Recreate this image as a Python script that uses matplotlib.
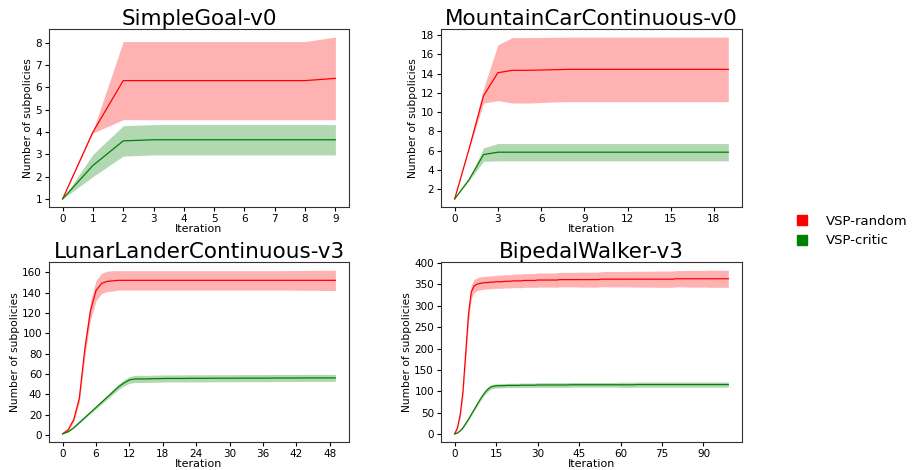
import matplotlib
matplotlib.use('Agg')
import matplotlib.pyplot as plt
from matplotlib.lines import Line2D
from matplotlib.ticker import MultipleLocator
import numpy as np

# SimpleGoal-v0
sg_x = list(range(10))
sg_red = [1, 4.0, 6.3, 6.3, 6.3, 6.3, 6.3, 6.3, 6.3, 6.4]
sg_red_std = [0, 0.05, 1.75, 1.75, 1.75, 1.75, 1.75, 1.75, 1.75, 1.85]
sg_green = [1, 2.5, 3.6, 3.65, 3.65, 3.65, 3.65, 3.65, 3.65, 3.65]
sg_green_std = [0, 0.5, 0.68, 0.68, 0.68, 0.68, 0.68, 0.68, 0.68, 0.68]

# MountainCarContinuous-v0
mc_x = list(range(20))
mc_red = [1, 6.2, 11.7, 14.1, 14.35, 14.35, 14.38, 14.42, 14.45, 14.45,
          14.45, 14.45, 14.45, 14.45, 14.45, 14.45, 14.45, 14.45, 14.45, 14.45]
mc_red_std = [0, 0.05, 0.75, 2.9, 3.4, 3.4, 3.38, 3.35, 3.35, 3.35,
              3.35, 3.35, 3.35, 3.35, 3.35, 3.35, 3.35, 3.35, 3.35, 3.35]
mc_green = [1, 3.0, 5.6, 5.85, 5.85, 5.85, 5.85, 5.85, 5.85, 5.85,
            5.85, 5.85, 5.85, 5.85, 5.85, 5.85, 5.85, 5.85, 5.85, 5.85]
mc_green_std = [0, 0.1, 0.7, 0.9, 0.9, 0.9, 0.9, 0.9, 0.9, 0.9,
                0.9, 0.9, 0.9, 0.9, 0.9, 0.9, 0.9, 0.9, 0.9, 0.9]

# LunarLanderContinuous-v3
ll_x = list(range(50))
ll_red = [1, 5, 15, 36, 85, 122, 142, 149, 151, 151.5,
          152, 152, 152, 152, 152, 152, 152, 152, 152, 152,
          152, 152, 152, 152, 152, 152, 152, 152, 152, 152,
          152, 152, 152, 152, 152, 152, 152, 152, 152, 152,
          152, 152, 152, 152, 152, 152, 152, 152, 152, 152]
ll_red_std = [0, 1, 2, 4, 7, 9, 10, 10, 10, 10,
              9.5, 9.5, 9.5, 9.5, 9.5, 9.5, 9.5, 9.5, 9.5, 9.5,
              9.5, 9.5, 9.5, 9.5, 9.5, 9.5, 9.5, 9.5, 9.5, 9.5,
              9.5, 9.5, 9.5, 9.5, 9.5, 9.5, 9.5, 9.5, 9.5, 9.5,
              9.6, 9.6, 9.7, 9.7, 9.8, 9.8, 9.9, 9.9, 10, 10]
ll_green = [1, 3, 7, 12, 17, 22, 27, 32, 37, 42,
            47, 51, 54, 55, 55, 55, 55.2, 55.3, 55.4, 55.5,
            55.5, 55.5, 55.5, 55.6, 55.6, 55.6, 55.6, 55.7, 55.7, 55.7,
            55.7, 55.7, 55.8, 55.8, 55.8, 55.8, 55.8, 55.8, 55.9, 55.9,
            55.9, 55.9, 55.9, 56, 56, 56, 56, 56, 56, 56]
ll_green_std = [0, 0.3, 0.6, 0.9, 1.0, 1.2, 1.5, 1.8, 2.0, 2.3,
                2.6, 3.0, 3.3, 3.5, 3.5, 3.5, 3.5, 3.5, 3.5, 3.5,
                3.5, 3.5, 3.5, 3.5, 3.5, 3.5, 3.5, 3.5, 3.5, 3.5,
                3.5, 3.5, 3.5, 3.5, 3.5, 3.5, 3.5, 3.5, 3.5, 3.5,
                3.5, 3.5, 3.5, 3.5, 3.5, 3.5, 3.5, 3.5, 3.5, 3.5]

# BipedalWalker-v3
bw_x = list(range(100))
bw_red = [1, 15, 45, 100, 190, 280, 332, 346, 350, 352,
          353, 354, 354, 355, 355, 356, 356, 356, 357, 357,
          357, 358, 358, 358, 358, 359, 359, 359, 359, 359,
          360, 360, 360, 360, 360, 360, 360, 360, 361, 361,
          361, 361, 361, 361, 361, 361, 361, 361, 361, 361,
          361, 361, 361, 362, 362, 362, 362, 362, 362, 362,
          362, 362, 362, 362, 362, 362, 362, 362, 362, 362,
          362, 362, 362, 362, 362, 362, 362, 362, 362, 362,
          363, 363, 363, 363, 363, 363, 363, 363, 363, 363,
          363, 363, 363, 363, 363, 363, 363, 363, 363, 363]
bw_red_std = [0, 3, 6, 10, 14, 18, 16, 15, 15, 15,
              15, 15, 15, 15, 15, 15, 15, 15.5, 15.5, 15.5,
              15.5, 15.5, 16, 16, 16, 16, 16, 16, 16, 16,
              16.5, 16.5, 16.5, 16.5, 16.5, 16.5, 16.5, 17, 17, 17,
              17, 17, 17, 17, 17, 17.5, 17.5, 17.5, 17.5, 17.5,
              17.5, 17.5, 17.5, 17.5, 18, 18, 18, 18, 18, 18,
              18, 18, 18, 18, 18.5, 18.5, 18.5, 18.5, 18.5, 18.5,
              18.5, 18.5, 18.5, 19, 19, 19, 19, 19, 19, 19,
              19, 19, 19, 19, 19.5, 19.5, 19.5, 19.5, 19.5, 19.5,
              19.5, 19.5, 20, 20, 20, 20, 20, 20, 20, 20]
bw_green = [1, 3, 8, 15, 25, 35, 46, 57, 68, 79,
            89, 98, 105, 110, 112, 113, 113, 113.5, 113.5, 114,
            114, 114, 114, 114, 114.5, 114.5, 114.5, 114.5, 114.5, 114.5,
            115, 115, 115, 115, 115, 115, 115, 115, 115, 115,
            115, 115, 115.5, 115.5, 115.5, 115.5, 115.5, 115.5, 115.5, 115.5,
            115.5, 115.5, 115.5, 115.5, 115.5, 115.5, 115.5, 115.5, 115.5, 115.5,
            115.5, 115.5, 115.5, 115.5, 115.5, 115.5, 116, 116, 116, 116,
            116, 116, 116, 116, 116, 116, 116, 116, 116, 116,
            116, 116, 116, 116, 116, 116, 116, 116, 116, 116,
            116, 116, 116, 116, 116, 116, 116, 116, 116, 116]
bw_green_std = [0, 1, 1, 2, 2, 3, 3, 3, 4, 4,
                4, 5, 5, 5, 5, 5, 5, 5, 5, 5,
                5, 5, 5, 5, 5, 5, 5, 5, 5, 5,
                5.5, 5.5, 5.5, 5.5, 5.5, 5.5, 5.5, 5.5, 5.5, 5.5,
                5.5, 5.5, 5.5, 5.5, 5.5, 5.5, 5.5, 5.5, 5.5, 5.5,
                5.5, 5.5, 5.5, 5.5, 5.5, 5.5, 5.5, 5.5, 5.5, 5.5,
                6, 6, 6, 6, 6, 6, 6, 6, 6, 6,
                6, 6, 6, 6, 6, 6, 6, 6, 6, 6,
                6, 6, 6, 6, 6, 6, 6, 6, 6, 6,
                6, 6, 6, 6, 6, 6, 6, 6, 6, 6]

panels = [
    ('SimpleGoal-v0', sg_x, sg_red, sg_red_std, sg_green, sg_green_std, 1, 1),
    ('MountainCarContinuous-v0', mc_x, mc_red, mc_red_std, mc_green, mc_green_std, 3, 2),
    ('LunarLanderContinuous-v3', ll_x, ll_red, ll_red_std, ll_green, ll_green_std, 6, 20),
    ('BipedalWalker-v3', bw_x, bw_red, bw_red_std, bw_green, bw_green_std, 15, 50),
]

# axes boxes in pixels: left, top, right, bottom
boxes = [(49, 29, 349, 207), (441, 29, 742, 207),
         (49, 262, 349, 442), (441, 262, 742, 442)]

W, H = 917, 470
fig = plt.figure(figsize=(W / 100, H / 100), dpi=100)

for (title, x, r, rs, g, gs, xstep, ystep), (l, t, rr, b) in zip(panels, boxes):
    ax = fig.add_axes([l / W, 1 - b / H, (rr - l) / W, (b - t) / H])
    x = np.array(x)
    r = np.array(r); rs = np.array(rs)
    g = np.array(g); gs = np.array(gs)
    ax.plot(x, r, color='red', lw=0.9)
    ax.fill_between(x, r - rs, r + rs, color='red', alpha=0.3, lw=0)
    ax.plot(x, g, color='green', lw=0.9)
    ax.fill_between(x, g - gs, g + gs, color='green', alpha=0.3, lw=0)
    ax.set_title(title, fontsize=15.5, pad=3)
    ax.set_xlabel('Iteration', fontsize=8, labelpad=0)
    ax.set_ylabel('Number of subpolicies', fontsize=7.7, labelpad=2)
    ax.xaxis.set_major_locator(MultipleLocator(xstep))
    ax.yaxis.set_major_locator(MultipleLocator(ystep))
    ax.tick_params(labelsize=7.5, length=3, pad=2)
    for s in ax.spines.values():
        s.set_color('#333333')

handles = [Line2D([], [], ls='none', marker='s', color='red', markersize=7),
           Line2D([], [], ls='none', marker='s', color='green', markersize=7)]
fig.legend(handles, ['VSP-random', 'VSP-critic'], loc='center left',
           bbox_to_anchor=(777 / W, 1 - 231 / H), frameon=False,
           fontsize=9.5, handletextpad=0.8, labelspacing=0.5)

fig.savefig('out.png', dpi=100)
